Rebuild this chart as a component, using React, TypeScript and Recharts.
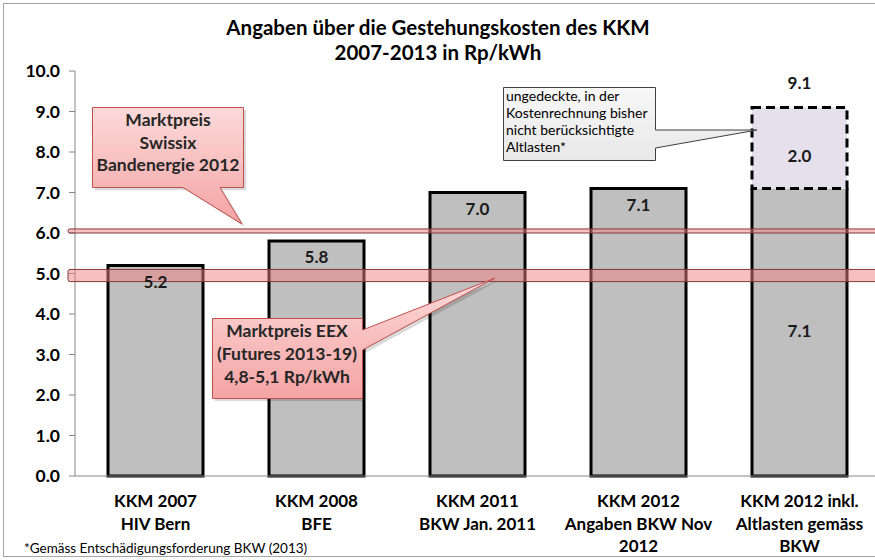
import React from 'react';
import {
  BarChart,
  Bar,
  XAxis,
  YAxis,
  ReferenceArea,
  LabelList,
} from 'recharts';

const categories = [
  ['KKM 2007', 'HIV Bern'],
  ['KKM 2008', 'BFE'],
  ['KKM 2011', 'BKW Jan. 2011'],
  ['KKM 2012', 'Angaben BKW Nov', '2012'],
  ['KKM 2012 inkl.', 'Altlasten gemäss', 'BKW'],
];
const baseCosts = [5.2, 5.8, 7.0, 7.1, 7.1];
const legacyCosts = [0, 0, 0, 0, 2.0];
const yTicks = [0, 1, 2, 3, 4, 5, 6, 7, 8, 9, 10];

// market price bands (Rp/kWh)
const swissixBand = [6.0, 6.1];
const eexBand = [4.8, 5.1];

const data = categories.map((lines, i) => ({
  name: lines.join('|'),
  base: baseCosts[i],
  extra: legacyCosts[i] || null,
  total: baseCosts[i] + legacyCosts[i],
}));

const FONT = 'Lato, "Open Sans", sans-serif';

const CategoryTick = (props: any) => {
  const { x, y, payload } = props;
  const lines = String(payload.value).split('|');
  return (
    <g transform={`translate(${x},${y})`}>
      {lines.map((l, i) => (
        <text
          key={i}
          x={0}
          y={19 + i * 22.5}
          textAnchor="middle"
          dominantBaseline="middle"
          fontFamily={FONT}
          fontWeight="bold"
          fontSize={17}
          fill="#000"
        >
          {l}
        </text>
      ))}
    </g>
  );
};

const BaseShape = (props: any) => {
  const { x, y, width, height, payload } = props;
  if (!height) return null;
  const openTop = payload.extra > 0;
  const d = openTop
    ? `M${x},${y} V${y + height} H${x + width} V${y}`
    : `M${x},${y + height} V${y} H${x + width} V${y + height} Z`;
  return (
    <g>
      <rect x={x} y={y} width={width} height={height} fill="#bfbfbf" />
      <path d={d} fill="none" stroke="#000" strokeWidth={3} />
    </g>
  );
};

const valueText = (x: number, y: number, v: number) => (
  <text
    x={x}
    y={y}
    textAnchor="middle"
    dominantBaseline="middle"
    fontFamily={FONT}
    fontWeight="bold"
    fontSize={17}
    fill="#1a1a1a"
  >
    {Number(v).toFixed(1)}
  </text>
);

const BaseLabel = (props: any) => {
  const { x, y, width, height, value, index } = props;
  const stacked = legacyCosts[index] > 0;
  const ty = stacked ? y + height / 2 : y + 18;
  return valueText(x + width / 2, ty, value);
};

const ExtraLabel = (props: any) => {
  const { x, y, width, height, value } = props;
  if (!value) return null;
  return valueText(x + width / 2, y + height / 2 + 10, value);
};

const TotalLabel = (props: any) => {
  const { x, y, width, value } = props;
  if (!value) return null;
  return valueText(x + width / 2, y - 23, value);
};

const BandShape = (props: any) => {
  const { x, y, width, height } = props;
  return (
    <rect
      x={x - 7}
      y={y}
      width={width + 7}
      height={height}
      rx={2}
      fill="#f08080"
      fillOpacity={0.5}
      stroke="#7f3a3a"
      strokeWidth={1}
    />
  );
};

const Callouts = () => (
  <svg
    width={875}
    height={560}
    style={{ position: 'absolute', left: 0, top: 0, pointerEvents: 'none' }}
  >
    <defs>
      <linearGradient id="pinkFill" x1="0" y1="0" x2="0" y2="1">
        <stop offset="0%" stopColor="#fcdada" />
        <stop offset="100%" stopColor="#f5a3a3" />
      </linearGradient>
      <linearGradient id="greyFill" x1="0" y1="0" x2="0" y2="1">
        <stop offset="0%" stopColor="#f7f7f7" />
        <stop offset="100%" stopColor="#e8e8e8" />
      </linearGradient>
    </defs>
    <rect x={3.5} y={3.5} width={880} height={553} fill="none" stroke="#a6a6a6" />

    {/* Swissix callout */}
    <path
      d="M95,110 H246 V190 H223 L245,227 L186,190 H95 Z"
      fill="#000"
      fillOpacity={0.15}
    />
    <path
      d="M92.5,107.5 H243.5 V187.5 H220 L242,224 L183,187.5 H92.5 Z"
      fill="url(#pinkFill)"
      stroke="#c0504d"
    />
    {['Marktpreis', 'Swissix', 'Bandenergie 2012'].map((t, i) => (
      <text
        key={t}
        x={168}
        y={122 + i * 22.5}
        textAnchor="middle"
        dominantBaseline="middle"
        fontFamily={FONT}
        fontWeight="bold"
        fontSize={17.5}
        fill="#262626"
      >
        {t}
      </text>
    ))}

    {/* EEX callout */}
    <path
      d="M215,321 H365 V333 L498,281 L365,353 V401 H215 Z"
      fill="#000"
      fillOpacity={0.15}
    />
    <path
      d="M212.5,318.5 H362.5 V330 L495,278 L362.5,350 V398.5 H212.5 Z"
      fill="url(#pinkFill)"
      stroke="#c0504d"
    />
    {['Marktpreis EEX', '(Futures 2013-19)', '4,8-5,1 Rp/kWh'].map((t, i) => (
      <text
        key={t}
        x={287}
        y={333 + i * 23}
        textAnchor="middle"
        dominantBaseline="middle"
        fontFamily={FONT}
        fontWeight="bold"
        fontSize={17.5}
        fill="#262626"
      >
        {t}
      </text>
    ))}

    {/* legacy cost callout */}
    <path
      d="M503.5,87.5 H655.5 V130 L757,130 L655.5,148 V160.5 H503.5 Z"
      fill="url(#greyFill)"
      stroke="#404040"
    />
    {['ungedeckte, in der', 'Kostenrechnung bisher', 'nicht berücksichtigte', 'Altlasten*'].map(
      (t, i) => (
        <text
          key={t}
          x={506}
          y={97 + i * 17}
          dominantBaseline="middle"
          fontFamily={FONT}
          fontSize={14}
          fill="#000"
        >
          {t}
        </text>
      )
    )}

    <text
      x={438}
      y={30}
      textAnchor="middle"
      dominantBaseline="middle"
      fontFamily={FONT}
      fontWeight="bold"
      fontSize={20.5}
      fill="#000"
    >
      Angaben über die Gestehungskosten des KKM
    </text>
    <text
      x={438}
      y={55}
      textAnchor="middle"
      dominantBaseline="middle"
      fontFamily={FONT}
      fontWeight="bold"
      fontSize={20.5}
      fill="#000"
    >
      2007-2013 in Rp/kWh
    </text>
    <text
      x={24}
      y={550}
      dominantBaseline="middle"
      fontFamily={FONT}
      fontSize={13.5}
      fill="#000"
    >
      *Gemäss Entschädigungsforderung BKW (2013)
    </text>
  </svg>
);

export default function App() {
  return (
    <div
      style={{
        position: 'absolute',
        left: 0,
        top: 0,
        width: 875,
        height: 560,
        overflow: 'hidden',
        background: '#fff',
      }}
    >
      <BarChart
        width={885}
        height={560}
        data={data}
        margin={{ top: 71, right: 5, left: 0, bottom: 4 }}
        barSize={95}
      >
        <XAxis
          dataKey="name"
          height={80}
          tick={<CategoryTick />}
          tickLine={false}
          axisLine={{ stroke: '#868686' }}
          interval={0}
        />
        <YAxis
          width={75}
          domain={[0, 10]}
          ticks={yTicks}
          tickFormatter={(v: number) => v.toFixed(1)}
          tick={{ fontFamily: FONT, fontWeight: 'bold', fontSize: 17.5, fill: '#000' }}
          tickSize={6}
          tickMargin={9}
          tickLine={{ stroke: '#868686' }}
          axisLine={{ stroke: '#868686' }}
          interval={0}
        />
        <Bar dataKey="base" stackId="s" shape={<BaseShape />} isAnimationActive={false}>
          <LabelList dataKey="base" content={<BaseLabel />} />
        </Bar>
        <Bar
          dataKey="extra"
          stackId="s"
          fill="#e5e0ec"
          stroke="#000"
          strokeWidth={3}
          strokeDasharray="9 5"
          isAnimationActive={false}
        >
          <LabelList dataKey="extra" content={<ExtraLabel />} />
          <LabelList dataKey="total" content={<TotalLabel />} />
        </Bar>
        <ReferenceArea
          y1={swissixBand[0]}
          y2={swissixBand[1]}
          shape={<BandShape />}
          ifOverflow="visible"
          zIndex={500}
        />
        <ReferenceArea
          y1={eexBand[0]}
          y2={eexBand[1]}
          shape={<BandShape />}
          ifOverflow="visible"
          zIndex={500}
        />
      </BarChart>
      <Callouts />
    </div>
  );
}
